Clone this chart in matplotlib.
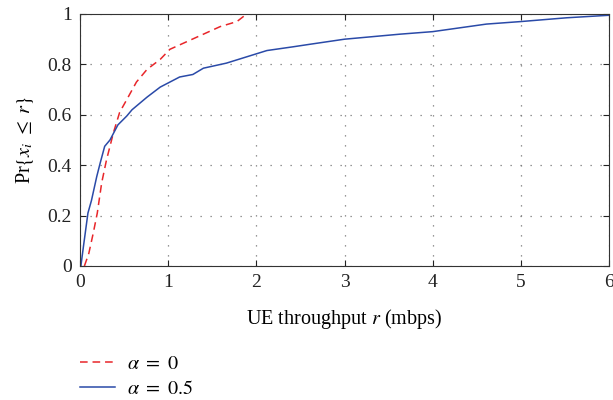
import matplotlib
matplotlib.use("Agg")
import matplotlib.pyplot as plt

# === DADOS ===
r_alpha0 = [0.05, 0.10, 0.15, 0.196, 0.246, 0.30, 0.38, 0.45, 0.53, 0.64, 0.76, 0.91,
            1.02, 1.21, 1.40, 1.59, 1.78, 1.89, 1.96]
cdf_alpha0 = [0.0, 0.05, 0.13, 0.21, 0.33, 0.42, 0.53, 0.61, 0.66, 0.73, 0.78, 0.82,
              0.86, 0.89, 0.92, 0.95, 0.97, 1.0, 1.0]

r_alpha05 = [0.0, 0.01, 0.04, 0.09, 0.13, 0.19, 0.23, 0.28, 0.34, 0.43, 0.53, 0.59,
             0.76, 0.91, 1.02, 1.13, 1.28, 1.40, 1.66, 1.89, 2.12, 2.42, 2.61, 3.0,
             3.63, 4.0, 4.61, 5.0, 5.52, 6.0]
cdf_alpha05 = [0.0, 0.0, 0.08, 0.21, 0.26, 0.355, 0.41, 0.475, 0.50, 0.56, 0.595, 0.62,
               0.67, 0.71, 0.73, 0.75, 0.76, 0.785, 0.805, 0.83, 0.855, 0.87, 0.88, 0.90,
               0.92, 0.93, 0.96, 0.97, 0.985, 0.995]

xticks = [0, 1, 2, 3, 4, 5, 6]
yticks = [0, 0.2, 0.4, 0.6, 0.8, 1]
ytick_labels = ["0", "0.2", "0.4", "0.6", "0.8", "1"]

# === ESTILO ===
plt.rcParams['font.family'] = ['Liberation Serif', 'DejaVu Serif']
plt.rcParams['mathtext.fontset'] = 'stix'
plt.rcParams['font.size'] = 14

fig = plt.figure(figsize=(6.13, 4.0), dpi=100)
ax = fig.add_axes([0.1305, 0.335, 0.863, 0.63])

linha1, = ax.plot(r_alpha0, cdf_alpha0, '--', color='#e8262a', lw=1.1,
                  dashes=(5, 3.2), label=r'$\alpha\ =\ 0$')
linha2, = ax.plot(r_alpha05, cdf_alpha05, '-', color='#2a4aa8', lw=1.1,
                  label=r'$\alpha\ =\ 0.5$')

ax.set_xlim(0, 6)
ax.set_ylim(0, 1)
ax.set_xticks(xticks)
ax.set_yticks(yticks)
ax.set_yticklabels(ytick_labels)
ax.tick_params(direction='in', top=True, right=True, length=4, width=0.8,
               labelsize=14, pad=6, colors='#222222')
ax.grid(True, linestyle=(0, (1, 7)), color='#777777', lw=0.9)
for s in ax.spines.values():
    s.set_color('#333333')
    s.set_linewidth(0.8)

ax.set_xlabel(r'UE throughput $r$ (mbps)', fontsize=14.5, labelpad=11)
ax.set_ylabel(r'Pr$\{x_i\ \leq\ r\}$', fontsize=14.5, labelpad=8)

fig.legend(handles=[linha1, linha2], loc='upper left', bbox_to_anchor=(0.1305, 0.113),
           frameon=False, fontsize=14.5, handlelength=1.75, labelspacing=0.3,
           handletextpad=0.6, borderpad=0, borderaxespad=0)

fig.savefig("out.png", dpi=100)
